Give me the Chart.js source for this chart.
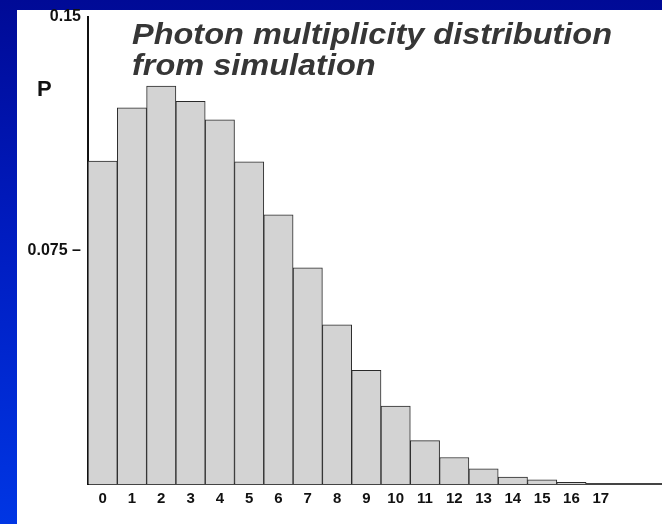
<!DOCTYPE html>
<html>
<head>
<meta charset="utf-8">
<script src="https://cdn.jsdelivr.net/npm/chart.js@4/dist/chart.umd.min.js"></script>
<style>
    html, body { margin: 0; padding: 0; width: 662px; height: 524px; overflow: hidden; }
    body { position: relative; background: linear-gradient(to bottom, #000a96 0%, #001cc0 45%, #0036e4 100%); }
    #sheet { position: absolute; left: 17px; top: 10px; right: 0; bottom: 0; background: #fff; }
    #hist { position: absolute; left: 0; top: 0; }
</style>
</head>
<body>
<div id="sheet"></div>
<canvas id="hist" width="674" height="524"></canvas>
<script>
// number of photons per event
const multiplicity = ['0', '1', '2', '3', '4', '5', '6', '7', '8', '9', '10',
    '11', '12', '13', '14', '15', '16', '17', '', ''];
// probability of each multiplicity
const probability = [0.1036, 0.1207, 0.1277, 0.1228, 0.1169, 0.1034, 0.0864, 0.0694,
    0.0511, 0.0365, 0.0250, 0.0139, 0.0085, 0.0049, 0.0022, 0.0013, 0.0005, 0, null, null];
const yTicks = [0.075, 0.15];
const titleLines = ['Photon multiplicity distribution', 'from simulation'];
const yLabel = 'P';

const FONT = '"Liberation Sans", Arial, sans-serif';

// title and the P label sit inside the plot, so draw them by hand
let textPlugin = {
    id: 'histText',
    afterDraw(chart) {
        const ctx = chart.ctx;
        ctx.save();
        ctx.fillStyle = '#363636';
        ctx.font = 'italic bold 30px ' + FONT;
        ctx.textBaseline = 'alphabetic';
        const w = ctx.measureText(titleLines[0]).width;
        const sx = 480 / w;
        titleLines.forEach((line, i) => {
            ctx.save();
            ctx.translate(132, 44 + i * 31);
            ctx.scale(sx, 1);
            ctx.fillText(line, 0, 0);
            ctx.restore();
        });
        ctx.fillStyle = '#111';
        ctx.font = 'bold 22px ' + FONT;
        ctx.fillText(yLabel, 37, 96);
        ctx.restore();
    }
};

let ctx = document.getElementById('hist').getContext('2d');

let myHist = new Chart(ctx, {
    type: 'bar',
    data: {
        labels: multiplicity,
        datasets: [{
            data: probability,
            backgroundColor: '#d3d3d3',
            borderColor: '#2a2a2a',
            borderWidth: 1,
            barPercentage: 1,
            categoryPercentage: 1
        }]
    },
    options: {
        responsive: false,
        animation: false,
        devicePixelRatio: 1,
        layout: { padding: { top: 14, right: 0, bottom: 0, left: 0 } },
        plugins: {
            legend: { display: false },
            tooltip: { enabled: false },
            title: { display: false }
        },
        scales: {
            x: {
                grid: { display: false, drawTicks: false },
                border: { display: true, color: '#444', width: 2 },
                ticks: {
                    color: '#111',
                    font: { family: FONT, size: 15, weight: 'bold' },
                    padding: 6,
                    maxRotation: 0,
                    autoSkip: false
                },
                afterFit(scale) { scale.height = 40; }
            },
            y: {
                min: 0,
                max: 0.15,
                grid: { display: false, drawTicks: false },
                border: { display: true, color: '#111', width: 2 },
                afterBuildTicks(scale) {
                    scale.ticks = yTicks.map(v => ({ value: v }));
                },
                ticks: {
                    color: '#111',
                    font: { family: FONT, size: 16, weight: 'bold' },
                    padding: 7,
                    callback: v => v === 0.075 ? '0.075 \u2013' : String(v)
                },
                afterFit(scale) { scale.width = 88; }
            }
        }
    },
    plugins: [textPlugin]
});
</script>
</body>
</html>
